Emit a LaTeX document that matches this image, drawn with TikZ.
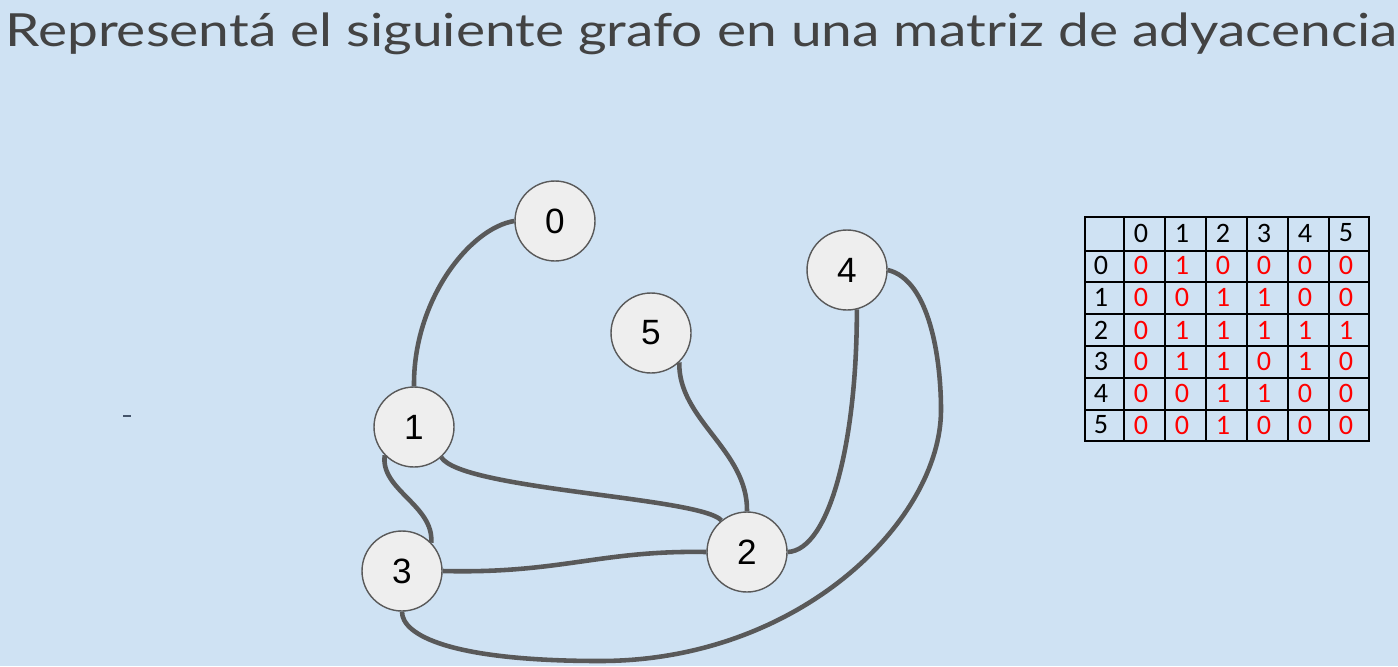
\documentclass[tikz,border=0pt]{standalone}
\usepackage{fontspec}
\setmainfont{Liberation Sans}
\newfontfamily\titlefont{Lato}
\newfontfamily\tabfont{Carlito}
\definecolor{bgblue}{HTML}{CFE2F3}
\definecolor{edgegray}{HTML}{595959}
\definecolor{titlegray}{HTML}{434343}
\definecolor{nodefill}{HTML}{EEEEEE}
\definecolor{dashgray}{HTML}{44546A}

\begin{document}
\begin{tikzpicture}[x=0.02cm, y=-0.02cm,
  vert/.style={circle,draw=black!65,line width=0.8pt,fill=nodefill,minimum size=1.6cm,inner sep=0pt,font=\fontsize{20}{20}\selectfont},
  edge/.style={line width=2.6pt,edgegray},
  cell/.style={font=\tabfont\fontsize{16}{16}\selectfont,inner sep=0pt}]
\fill[bgblue] (0,0) rectangle (1398,666);
\useasboundingbox (0,0) rectangle (1398,666);
\node[anchor=base west,text=titlegray,font=\titlefont\fontsize{26}{26}\selectfont,inner sep=0pt] (title) at (5,46) {\scalebox{1.205}[1]{Representá el siguiente grafo en una matriz de adyacencia}};
\draw[dashgray,line width=0.6pt] (123,416) -- (131,416);
% graph
\node[vert] (v0) at (555,221) {0};
\node[vert] (v1) at (414,427) {1};
\node[vert] (v2) at (747,552) {2};
\node[vert] (v3) at (402,571) {3};
\node[vert] (v4) at (847,270) {4};
\node[vert] (v5) at (651,333) {5};
\draw[edge] (v0.west) .. controls (470,228) and (413,300) .. (v1.north);
\draw[edge] (v1.224) .. controls (380,490) and (434,505) .. (v3.44);
\draw[edge] (v1.312) .. controls (462,490) and (700,497) .. (v2.129);
\draw[edge] (v3.east) .. controls (560,574) and (600,550) .. (v2.west);
\draw[edge] (v5.314) .. controls (678,420) and (748,450) .. (v2.north);
\draw[edge] (v4.284) .. controls (857,440) and (830,550) .. (v2.east);
\draw[edge] (v4.east) .. controls (930,280) and (941,360) .. (941,410) .. controls (941,520) and (800,661) .. (600,661) .. controls (450,661) and (402,635) .. (v3.south);
% matrix
\draw[black,line width=0.6pt] (1085,217) rectangle (1369,441);
\foreach \x in {1124,1165,1206,1247,1288,1329} \draw[black,line width=0.6pt] (\x,217) -- (\x,441);
\foreach \y in {251,282,314,346,378,410} \draw[black,line width=0.6pt] (1085,\y) -- (1369,\y);
\foreach \c [count=\i from 0] in {1141,1182,1223,1264,1305,1346} \node[cell] (h\i) at (\c,233) {\i};
\foreach \y/\r/\vals in {265/0/{0,1,0,0,0,0},297/1/{0,0,1,1,0,0},330/2/{0,1,1,1,1,1},361/3/{0,1,1,0,1,0},393/4/{0,0,1,1,0,0},425/5/{0,0,1,0,0,0}} {
  \node[cell] (r\r) at (1101,\y) {\r};
  \foreach \v [count=\j from 0] in \vals \node[cell,red] (m\r\j) at ({1141+41*\j},\y) {\v};
}
\end{tikzpicture}
\end{document}
